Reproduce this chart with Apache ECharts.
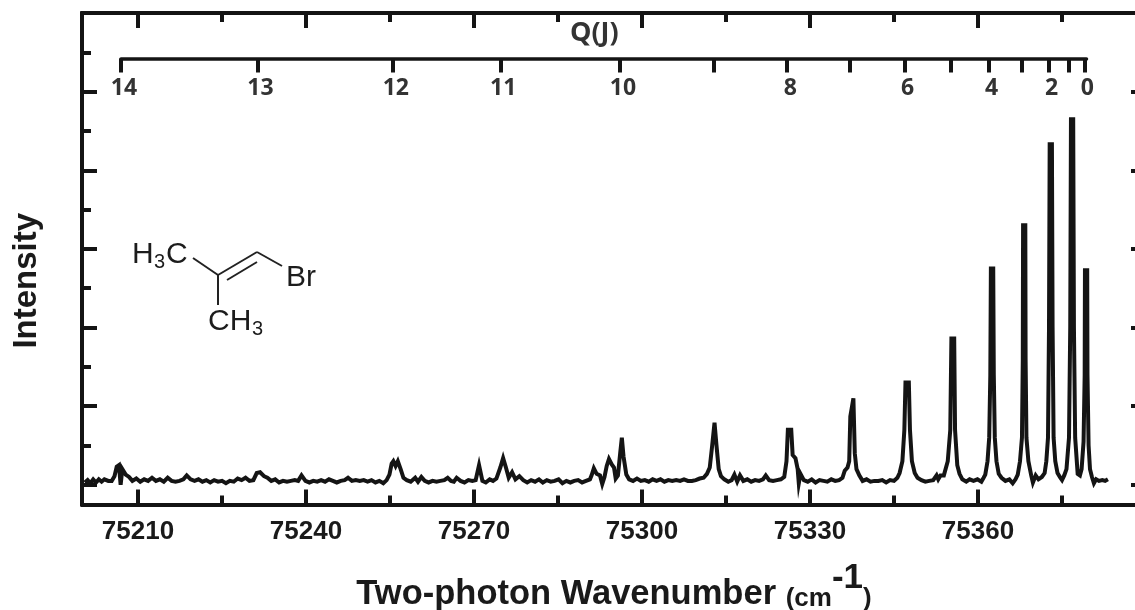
<!DOCTYPE html>
<html><head><meta charset="utf-8">
<style>html,body{margin:0;padding:0;background:#fff;overflow:hidden}#c{width:1135px;height:610px}</style>
<script src="https://cdn.jsdelivr.net/npm/echarts@6/dist/echarts.min.js"></script>
</head><body><div id="c"></div><script>
// [wavenumber, intensity] readings
const spectrumLeft = [
[75200.5,.03],[75201,.06],[75201.5,.02],[75202,.07],[75202.5,.03],[75203,.07],[75203.5,.04],[75204,.07],[75204.7,.05],[75205.3,.05],[75205.8,.11],[75206.2,.23],[75206.6,.25],[75206.9,.0],[75207.2,.2],[75207.8,.13],[75208.4,.1],[75209,.05],[75209.7,.08],[75210.4,.04],[75211.1,.07],[75211.8,.05],[75212.5,.09],[75213.2,.05],[75213.9,.07],[75214.6,.04],[75215.3,.09],[75216,.05],[75216.7,.04],[75217.4,.05],[75218.1,.07],[75218.7,.12],[75219.4,.07],[75220.1,.05],[75220.8,.07],[75221.5,.04],[75222.2,.06],[75222.9,.03],[75223.6,.06],[75224.3,.04],[75225,.05],[75225.7,.02],[75226.4,.05],[75227.1,.04],[75227.8,.08],[75228.5,.06],[75229.2,.09],[75229.9,.05],[75230.6,.06],[75231.2,.15],[75231.8,.16],[75232.5,.11],[75233.1,.09],[75233.8,.05],[75234.5,.07],[75235.2,.03],[75235.9,.05],[75236.6,.04],[75237.3,.05],[75238,.06],[75238.6,.05],[75239.2,.12],[75239.9,.05],[75240.6,.03],[75241.3,.05],[75242,.04],[75242.7,.06],[75243.4,.04],[75244.1,.07],[75244.8,.05],[75245.5,.03],[75246.2,.05],[75246.9,.06],[75247.5,.09],[75248.2,.05],[75248.9,.06],[75249.6,.05],[75250.3,.06],[75251,.04],[75251.7,.06],[75252.4,.03],[75253.1,.05],[75253.8,.02],[75254.4,.06],[75254.9,.13],[75255.3,.27],[75255.6,.3],[75256,.24],[75256.4,.3],[75256.9,.2],[75257.4,.09],[75258,.06],[75258.7,.04],[75259.5,.09],[75260,.04],[75260.6,.1],[75261.2,.05],[75261.9,.03],[75262.6,.05],[75263.3,.04],[75264,.05],[75264.7,.06],[75265.3,.09],[75265.9,.05],[75266.4,.04],[75266.9,.09],[75267.6,.05],[75268.3,.03],[75269,.06],[75269.7,.05],[75270.3,.06],[75270.9,.25],[75271.5,.05],[75272.1,.03],[75272.8,.07],[75273.4,.05],[75274,.08],[75274.7,.22],[75275.2,.34],[75275.7,.22],[75276.2,.09],[75276.8,.16],[75277.4,.07],[75278.1,.11],[75278.8,.06],[75279.5,.03],[75280.2,.06],[75280.9,.04],[75281.6,.07],[75282.3,.03],[75283,.06],[75283.7,.04],[75284.4,.05],[75285.1,.07],[75285.8,.02],[75286.5,.05],[75287.2,.03],[75287.9,.05],[75288.6,.06],[75289.3,.03],[75290,.05],[75290.7,.07]
];
const spectrumMiddle = [
[75291,.12],[75291.4,.21],[75291.9,.14],[75292.5,.12],[75292.9,.01],[75293.3,.1],[75293.7,.24],[75294.1,.33],[75294.6,.26],[75295,.22],[75295.3,.08],[75295.7,.12],[75296.1,.4],[75296.4,.6],[75296.7,.36],[75297.2,.13],[75297.7,.07],[75298.4,.05],[75299.1,.08],[75299.8,.05],[75300.5,.06],[75301.2,.04],[75301.9,.07],[75302.6,.05],[75303.3,.07],[75304,.04],[75304.7,.06],[75305.4,.05],[75306.1,.06],[75306.8,.05],[75307.5,.07],[75308.2,.05],[75308.9,.05],[75309.6,.06],[75310.3,.08],[75311,.09],[75311.6,.14],[75312.1,.22],[75312.5,.48],[75312.95,.79],[75313.3,.5],[75313.7,.2],[75314.1,.11],[75314.7,.07],[75315.4,.04],[75316,.06],[75316.5,.13],[75317,.04],[75317.5,.12],[75318.1,.05],[75318.8,.07],[75319.5,.04],[75320.2,.06],[75320.9,.05],[75321.6,.07],[75322.1,.12],[75322.7,.06],[75323.4,.05],[75324.1,.06],[75324.8,.07],[75325.4,.1],[75325.8,.3],[75326.05,.7],[75326.65,.7],[75326.9,.38],[75327.4,.34],[75327.8,.2],[75328,.02],[75328.3,.14],[75328.9,.06],[75329.6,.04],[75330.3,.07],[75331,.03],[75331.7,.06],[75332.4,.05],[75333.1,.04],[75333.8,.07],[75334.5,.05],[75335.2,.06],[75335.8,.09],[75336.2,.18],[75336.7,.22],[75337,.3],[75337.2,.87],[75337.75,1.1],[75338,.4],[75338.3,.2],[75338.8,.12],[75339.4,.05],[75340.1,.07],[75340.8,.04],[75341.5,.05],[75342.2,.05],[75342.9,.06],[75343.6,.03],[75344.3,.06],[75345,.05],[75345.6,.09],[75346,.15],[75346.5,.3],[75346.85,.7],[75347.05,1.3],[75347.65,1.3],[75347.85,.7],[75348.2,.3],[75348.7,.15],[75349.2,.09],[75349.9,.06],[75350.6,.04],[75351.3,.05],[75352,.06],[75352.6,.12],[75352.9,.07],[75353.3,.12],[75353.9,.12],[75354.6,.3],[75355.05,.7],[75355.25,1.86],[75355.75,1.86],[75355.9,.7],[75356.3,.25],[75356.7,.14],[75357.2,.07],[75357.9,.04],[75358.5,.07],[75359.2,.05],[75359.9,.07],[75360.6,.04],[75361,.09]
];
const spectrumRight = [
[75361.3,.13],[75361.7,.3],[75362,.6],[75362.2,1.4],[75362.3,2.75],[75362.72,2.75],[75362.82,1.4],[75363,.6],[75363.3,.3],[75363.7,.14],[75364.2,.09],[75364.9,.05],[75365.6,.07],[75366.2,.02],[75366.7,.07],[75367.1,.13],[75367.5,.3],[75367.85,.6],[75368,1.6],[75368.05,3.3],[75368.45,3.3],[75368.5,1.6],[75368.65,.6],[75369,.3],[75369.5,.12],[75369.8,.03],[75370.3,.12],[75370.8,.07],[75371.4,.1],[75371.9,.15],[75372.2,.3],[75372.5,.6],[75372.68,2],[75372.8,4.33],[75373.2,4.33],[75373.32,2],[75373.5,.6],[75373.8,.3],[75374.2,.15],[75374.7,.09],[75375,.06],[75375.4,.12],[75375.8,.2],[75376.25,.6],[75376.47,2],[75376.6,4.65],[75377,4.65],[75377.13,2],[75377.35,.6],[75377.8,.14],[75378.2,.12],[75378.5,.2],[75378.85,.55],[75379.05,1.4],[75379.1,2.73],[75379.5,2.73],[75379.55,1.4],[75379.75,.5],[75380,.2],[75380.35,.1],[75380.7,.02],[75381.1,.07],[75381.6,.05],[75382.2,.06],[75382.7,.05],[75383.2,.07]
];
const spectrum = [...spectrumLeft, ...spectrumMiddle, ...spectrumRight];

const majorX = [75210,75240,75270,75300,75330,75360,75390];
const minorX = [75225,75255,75285,75315,75345,75375];
const labelX = [75210,75240,75270,75300,75330,75360];
const majorY = [0,1,2,3,4,5];
const minorY = [0.5,1.5,2.5,3.5,4.5,5.5];
const qJ = [14,13,12,11,10,9,8,7,6,5,4,3,2,1,0];
const qPos = [75207,75231.4,75255.6,75274.8,75296.2,75312.9,75326.1,75337.3,75347.1,75355.4,75362.1,75368,75372.8,75376.5,75379.2];
const qLabelled = [14,13,12,11,10,8,6,4,2,0];

const INK = '#141414';
const boxX = a => Object.assign({gridIndex:0,type:'value',min:75200,max:75390,splitLine:{show:false},
  axisLine:{show:true,onZero:false,lineStyle:{color:INK,width:4}},axisLabel:{show:false}},a);
const boxY = a => Object.assign({gridIndex:0,type:'value',min:-0.25,max:6,splitLine:{show:false},
  axisLine:{show:true,onZero:false,lineStyle:{color:INK,width:4}},axisLabel:{show:false}},a);
const tick = (vals,len) => ({show:true,inside:true,customValues:vals,length:len,lineStyle:{color:INK,width:4}});
const txt = (x,y,s,size,extra) => ({type:'text',x,y,silent:true,style:Object.assign({text:s,fontFamily:'Liberation Sans',fontSize:size,fill:'#1c1c1c',align:'left',verticalAlign:'middle'},extra||{})});
const bond = (a,b,c,d) => ({type:'line',silent:true,shape:{x1:a,y1:b,x2:c,y2:d},style:{stroke:'#222',lineWidth:2}});

const chart = echarts.init(document.getElementById('c'),null,{renderer:'canvas'});
chart.setOption({
  animation:false,
  backgroundColor:'#fff',
  grid:[
    {left:82,top:13,width:1064,height:491.5,outerBoundsMode:'none',containLabel:false},
    {left:121,top:58.5,width:965.5,height:40,outerBoundsMode:'none',containLabel:false}
  ],
  xAxis:[
    boxX({position:'bottom',axisTick:tick(majorX,15),
      axisLabel:{show:true,customValues:labelX,margin:14,fontFamily:'Liberation Sans',fontWeight:'bold',fontSize:26,color:'#1a1a1a',formatter:v=>String(v)},
      name:'{m|Two-photon Wavenumber }{s|(cm}{u|-1}{s|)}',nameLocation:'middle',nameGap:56,
      nameTextStyle:{rich:{
        m:{fontFamily:'Liberation Sans',fontWeight:'bold',fontSize:34.5,color:'#1a1a1a',verticalAlign:'bottom'},
        s:{fontFamily:'Liberation Sans',fontWeight:'bold',fontSize:26,color:'#1a1a1a',verticalAlign:'bottom'},
        u:{fontFamily:'Liberation Sans',fontWeight:'bold',fontSize:35,color:'#1a1a1a',padding:[0,0,16,0],verticalAlign:'bottom'}
      }}}),
    boxX({position:'bottom',axisTick:tick(minorX,9)}),
    boxX({position:'top',axisTick:tick(majorX,15)}),
    boxX({position:'top',axisTick:tick(minorX,9)}),
    {gridIndex:1,type:'value',position:'top',min:qPos[0],max:75379.6,splitLine:{show:false},
      axisLine:{show:true,onZero:false,lineStyle:{color:INK,width:3.5}},
      axisTick:{show:true,inside:true,customValues:qPos,length:14,lineStyle:{color:INK,width:4}},
      axisLabel:{show:true,inside:true,customValues:qLabelled.map(j=>qPos[qJ.indexOf(j)]),margin:18,
        fontFamily:'Open Sans',fontWeight:700,fontSize:23,color:'#333',padding:[0,0,0,6],
        hideOverlap:false,showMinLabel:true,showMaxLabel:true,
        formatter:v=>String(qJ[qPos.indexOf(v)])},
      name:'Q(J)',nameLocation:'middle',nameGap:12,
      nameTextStyle:{fontFamily:'Open Sans',fontWeight:700,fontSize:27,color:'#333',padding:[0,0,0,-19]}}
  ],
  yAxis:[
    boxY({position:'left',axisTick:tick(majorY,15),
      name:'Intensity',nameLocation:'middle',nameGap:39,nameRotate:90,
      nameTextStyle:{fontFamily:'Liberation Sans',fontWeight:'bold',fontSize:33,color:'#1a1a1a',padding:[0,44,0,0]}}),
    boxY({position:'left',axisTick:tick(minorY,9)}),
    boxY({position:'right',axisTick:tick(majorY,15)}),
    boxY({position:'right',axisTick:tick(minorY,9)}),
    {gridIndex:1,type:'value',min:0,max:1,show:false}
  ],
  series:[
    {type:'line',xAxisIndex:0,yAxisIndex:0,data:spectrum,showSymbol:false,symbol:'none',smooth:false,sampling:false,clip:true,
     lineStyle:{color:'#141414',width:4,join:'miter'},z:5},
    {type:'line',xAxisIndex:4,yAxisIndex:4,data:[],showSymbol:false}
  ],
  graphic:[
    bond(193,258,218,275),bond(218,275,257,252),bond(227,280,257,262),bond(257,252,282,266),bond(218,275,218,305),
    txt(132,255,'H',30),txt(154,262,'3',20),txt(166,255,'C',30),
    txt(286,278,'Br',30),
    txt(208,322,'CH',30),txt(252,329,'3',20)
  ]
});
</script></body></html>
